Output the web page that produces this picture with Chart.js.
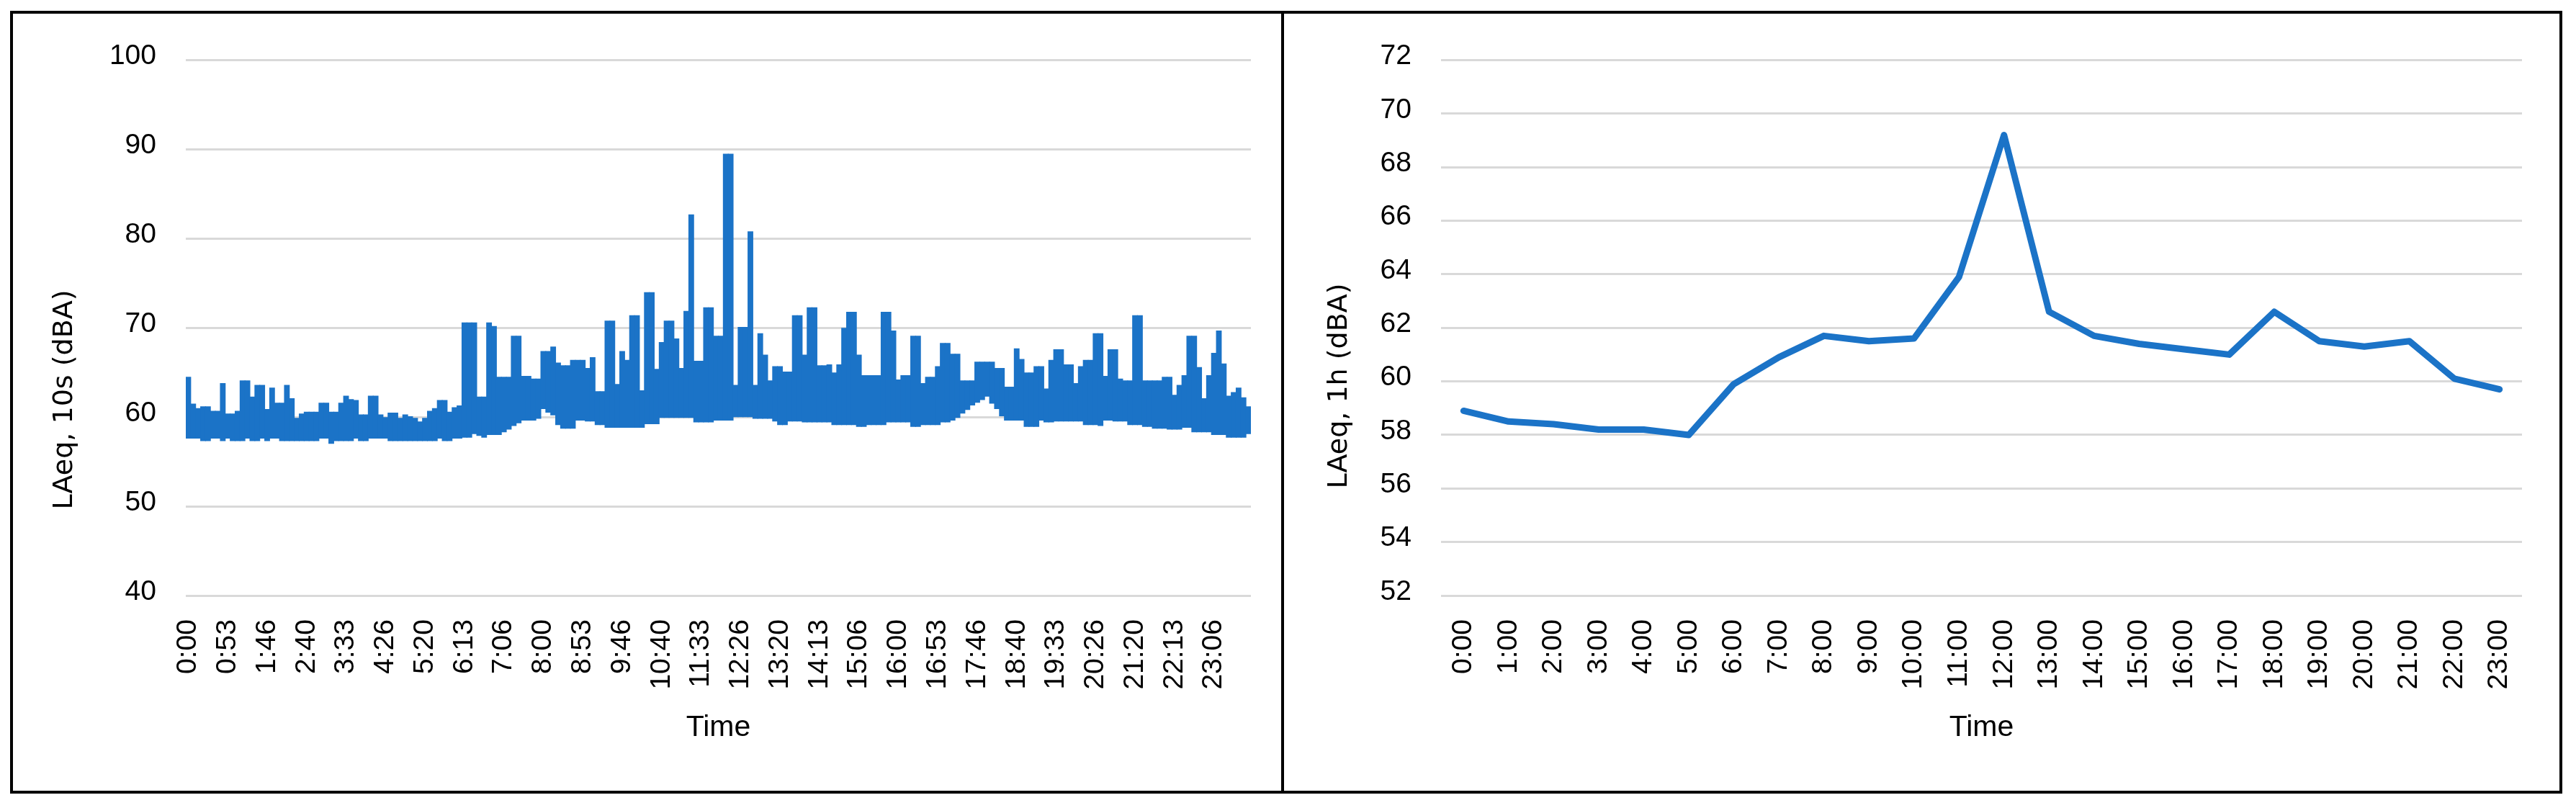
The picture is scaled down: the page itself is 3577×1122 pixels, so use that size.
<!DOCTYPE html>
<html>
<head>
<meta charset="utf-8">
<title>LAeq 10s / 1h</title>
<script src="https://cdn.jsdelivr.net/npm/chart.js@4.4.0/dist/chart.umd.min.js"></script>
<style>
  html, body { margin: 0; padding: 0; background: #fff; }
  body { width: 3577px; height: 1122px; position: relative; overflow: hidden; }
  #frame { position: absolute; left: 14px; top: 15px; width: 3544px; height: 1087px; box-sizing: border-box; border: 4px solid #000; }
  #divider { position: absolute; left: 1779px; top: 15px; width: 4px; height: 1087px; background: #000; }
  .panel { position: absolute; top: 19px; }
  #leftPanel { left: 18px; }
  #rightPanel { left: 1783px; }
</style>
</head>
<body>
<div id="frame"></div>
<div id="divider"></div>
<div class="panel" id="leftPanel"><canvas id="tenSecChart" width="1761" height="1079"></canvas></div>
<div class="panel" id="rightPanel"><canvas id="hourChart" width="1771" height="1079"></canvas></div>
<script>
const tickLabels10s = ['0:00', '0:53', '1:46', '2:40', '3:33', '4:26', '5:20', '6:13', '7:06',
    '8:00', '8:53', '9:46', '10:40', '11:33', '12:26', '13:20', '14:13', '15:06', '16:00',
    '16:53', '17:46', '18:40', '19:33', '20:26', '21:20', '22:13', '23:06'];

const highBand = [
    64.5, 61.5, 61.0, 61.2, 61.2, 60.7, 60.7, 63.8, 60.4, 60.4, 60.7, 64.1, 64.1, 62.3, 63.6, 63.6,
    60.9, 63.3, 61.6, 61.6, 63.6, 62.1, 59.9, 60.4, 60.6, 60.6, 60.6, 61.6, 61.6, 60.6, 60.6, 61.6,
    62.4, 62.0, 61.9, 60.3, 60.3, 62.4, 62.4, 60.3, 60.0, 60.5, 60.5, 59.9, 60.3, 60.1, 59.9, 59.5,
    59.9, 60.7, 61.0, 61.9, 61.9, 60.6, 61.1, 61.3, 70.6, 70.6, 70.6, 62.3, 62.3, 70.6, 70.2, 64.5,
    64.5, 64.5, 69.1, 69.1, 64.6, 64.6, 64.3, 64.3, 67.4, 67.4, 67.9, 66.1, 65.8, 65.8, 66.4, 66.4,
    66.4, 65.5, 66.7, 62.9, 62.9, 70.8, 70.8, 63.7, 67.4, 66.4, 71.4, 71.4, 63.0, 74.0, 74.0, 65.4,
    68.4, 70.8, 70.8, 68.8, 65.5, 71.9, 82.7, 66.3, 66.3, 72.3, 72.3, 69.1, 69.1, 89.5, 89.5, 63.6,
    70.1, 70.1, 80.8, 63.6, 69.4, 67.0, 64.1, 65.7, 65.7, 65.1, 65.1, 71.4, 71.4, 67.0, 72.3, 72.3,
    65.8, 65.8, 65.9, 65.0, 65.9, 70.0, 71.8, 71.8, 67.0, 64.7, 64.7, 64.7, 64.7, 71.8, 71.8, 69.7,
    64.2, 64.7, 64.7, 69.1, 69.1, 63.8, 64.5, 64.5, 65.7, 68.3, 68.3, 67.1, 67.1, 64.1, 64.1, 64.1,
    66.2, 66.2, 66.2, 66.2, 65.5, 65.5, 63.4, 63.4, 67.7, 66.5, 65.0, 65.0, 65.7, 65.7, 63.2, 66.4,
    67.6, 67.6, 65.9, 65.9, 63.8, 65.7, 66.4, 66.4, 69.4, 69.4, 64.6, 67.6, 67.6, 64.3, 64.1, 64.1,
    71.4, 71.4, 64.1, 64.1, 64.1, 64.1, 64.5, 64.5, 62.5, 63.6, 64.7, 69.1, 69.1, 65.6, 62.1, 64.7,
    67.2, 69.7, 66.0, 62.4, 62.8, 63.3, 62.2, 61.2
];

const lowBand = [
    57.6, 57.6, 57.6, 57.3, 57.3, 57.6, 57.6, 57.3, 57.6, 57.3, 57.3, 57.3, 57.6, 57.3, 57.3, 57.6,
    57.3, 57.6, 57.6, 57.3, 57.3, 57.3, 57.3, 57.3, 57.3, 57.3, 57.3, 57.6, 57.6, 57.0, 57.3, 57.3,
    57.3, 57.3, 57.6, 57.3, 57.3, 57.6, 57.6, 57.6, 57.6, 57.3, 57.3, 57.3, 57.3, 57.3, 57.3, 57.3,
    57.3, 57.3, 57.3, 57.6, 57.3, 57.3, 57.6, 57.6, 57.7, 57.7, 58.1, 57.9, 57.7, 58.0, 58.0, 58.0,
    58.3, 58.6, 59.0, 59.3, 59.6, 59.6, 59.6, 59.8, 60.9, 60.5, 60.2, 59.1, 58.7, 58.7, 58.7, 59.6,
    59.6, 59.5, 59.5, 59.1, 59.1, 58.8, 58.8, 58.8, 58.8, 58.8, 58.8, 58.8, 58.8, 59.2, 59.2, 59.2,
    59.9, 59.9, 59.9, 59.9, 59.9, 59.9, 59.9, 59.4, 59.4, 59.4, 59.4, 59.6, 59.6, 59.6, 59.6, 60.0,
    60.0, 60.0, 60.0, 59.8, 59.8, 59.8, 59.8, 59.5, 59.1, 59.1, 59.5, 59.5, 59.5, 59.4, 59.4, 59.4,
    59.4, 59.4, 59.4, 59.1, 59.1, 59.1, 59.1, 59.1, 58.9, 58.9, 59.1, 59.1, 59.1, 59.1, 59.4, 59.4,
    59.4, 59.4, 59.4, 58.9, 58.9, 59.1, 59.1, 59.1, 59.1, 59.4, 59.4, 59.6, 59.9, 60.4, 60.8, 61.3,
    61.6, 61.9, 62.3, 61.5, 60.9, 60.1, 59.6, 59.6, 59.6, 59.6, 58.9, 58.9, 58.9, 59.6, 59.4, 59.4,
    59.5, 59.5, 59.5, 59.5, 59.5, 59.5, 59.1, 59.1, 59.1, 59.0, 59.6, 59.6, 59.5, 59.5, 59.5, 59.1,
    59.1, 59.1, 58.9, 58.9, 58.7, 58.7, 58.7, 58.6, 58.6, 58.6, 58.8, 58.8, 58.3, 58.3, 58.3, 58.3,
    58.0, 58.0, 58.0, 57.7, 57.7, 57.7, 57.7, 58.1
];

// --- data: hourly LAeq ---
const hourLabels = ['0:00', '1:00', '2:00', '3:00', '4:00', '5:00', '6:00', '7:00', '8:00', '9:00',
    '10:00', '11:00', '12:00', '13:00', '14:00', '15:00', '16:00', '17:00', '18:00', '19:00',
    '20:00', '21:00', '22:00', '23:00'];
const hourlyLaeq = [58.9, 58.5, 58.4, 58.2, 58.2, 58.0, 59.9, 60.9, 61.7, 61.5, 61.6, 63.9,
    69.2, 62.6, 61.7, 61.4, 61.2, 61.0, 62.6, 61.5, 61.3, 61.5, 60.1, 59.7];

const BLUE = '#1b73c7';
const GRID = '#d9d9d9';
const tickFont = { family: "'Liberation Sans', Arial, sans-serif", size: 39 };
const xTitleFont = { family: "'Liberation Sans', Arial, sans-serif", size: 41 };

// draws the rotated y axis title where Excel puts it (centred lower than the plot area)
const yTitlePlugin = {
    id: 'yTitle',
    afterDraw(chart, args, opts) {
        const ctx = chart.ctx;
        ctx.save();
        ctx.translate(opts.x, opts.y);
        ctx.rotate(-Math.PI / 2);
        ctx.font = '38px "DejaVu Sans", Verdana, sans-serif';
        ctx.fillStyle = '#000';
        ctx.textAlign = 'center';
        ctx.textBaseline = 'middle';
        ctx.fillText(opts.text, 0, 0);
        ctx.restore();
    }
};

function xAxis(callback) {
    return {
        type: 'category',
        offset: true,
        grid: { display: false, drawTicks: false },
        border: { display: false },
        ticks: {
            autoSkip: false, minRotation: 90, maxRotation: 90, padding: 33,
            font: tickFont, color: '#000', callback: callback
        },
        title: { display: true, text: 'Time', font: xTitleFont, color: '#000', padding: { top: 0, bottom: 63 } },
        afterFit: s => { s.height = 271; }
    };
}

function yAxis(min, max, step, width) {
    return {
        min: min, max: max,
        ticks: { stepSize: step, padding: 41, labelOffset: -5, font: tickFont, color: '#000' },
        grid: { color: GRID, lineWidth: 3, drawTicks: false },
        border: { display: false },
        afterFit: s => { s.width = width; }
    };
}

// --- 10 s chart: each bin drawn as a floating bar from its low to its high value ---
new Chart(document.getElementById('tenSecChart').getContext('2d'), {
    type: 'bar',
    data: {
        labels: highBand.map((h, i) => (i % 8 === 0 ? tickLabels10s[i / 8] : '')),
        datasets: [{
            label: 'LAeq, 10s (dBA)',
            data: highBand.map((h, i) => [lowBand[i], h]),
            backgroundColor: BLUE,
            borderWidth: 0,
            barPercentage: 1.15,
            categoryPercentage: 1
        }]
    },
    options: {
        responsive: false,
        animation: false,
        layout: { padding: { top: 54, right: 42, bottom: 0, left: 0 } },
        plugins: {
            legend: { display: false },
            tooltip: { enabled: false },
            yTitle: { text: 'LAeq, 10s (dBA)', x: 72, y: 536 }
        },
        scales: {
            x: xAxis((v, i) => (i % 8 === 0 ? tickLabels10s[i / 8] : null)),
            y: yAxis(40, 100, 10, 240)
        }
    },
    plugins: [yTitlePlugin]
});

// --- hourly chart ---
new Chart(document.getElementById('hourChart').getContext('2d'), {
    type: 'line',
    data: {
        labels: hourLabels,
        datasets: [{
            label: 'LAeq, 1h (dBA)',
            data: hourlyLaeq,
            borderColor: BLUE,
            borderWidth: 9,
            borderJoinStyle: 'round',
            borderCapStyle: 'round',
            pointRadius: 0,
            tension: 0,
            fill: false
        }]
    },
    options: {
        responsive: false,
        animation: false,
        layout: { padding: { top: 54, right: 52, bottom: 0, left: 0 } },
        plugins: {
            legend: { display: false },
            tooltip: { enabled: false },
            yTitle: { text: 'LAeq, 1h (dBA)', x: 77, y: 517 }
        },
        scales: {
            x: xAxis((v, i) => hourLabels[i]),
            y: yAxis(52, 72, 2, 218)
        }
    },
    plugins: [yTitlePlugin]
});
</script>
</body>
</html>
